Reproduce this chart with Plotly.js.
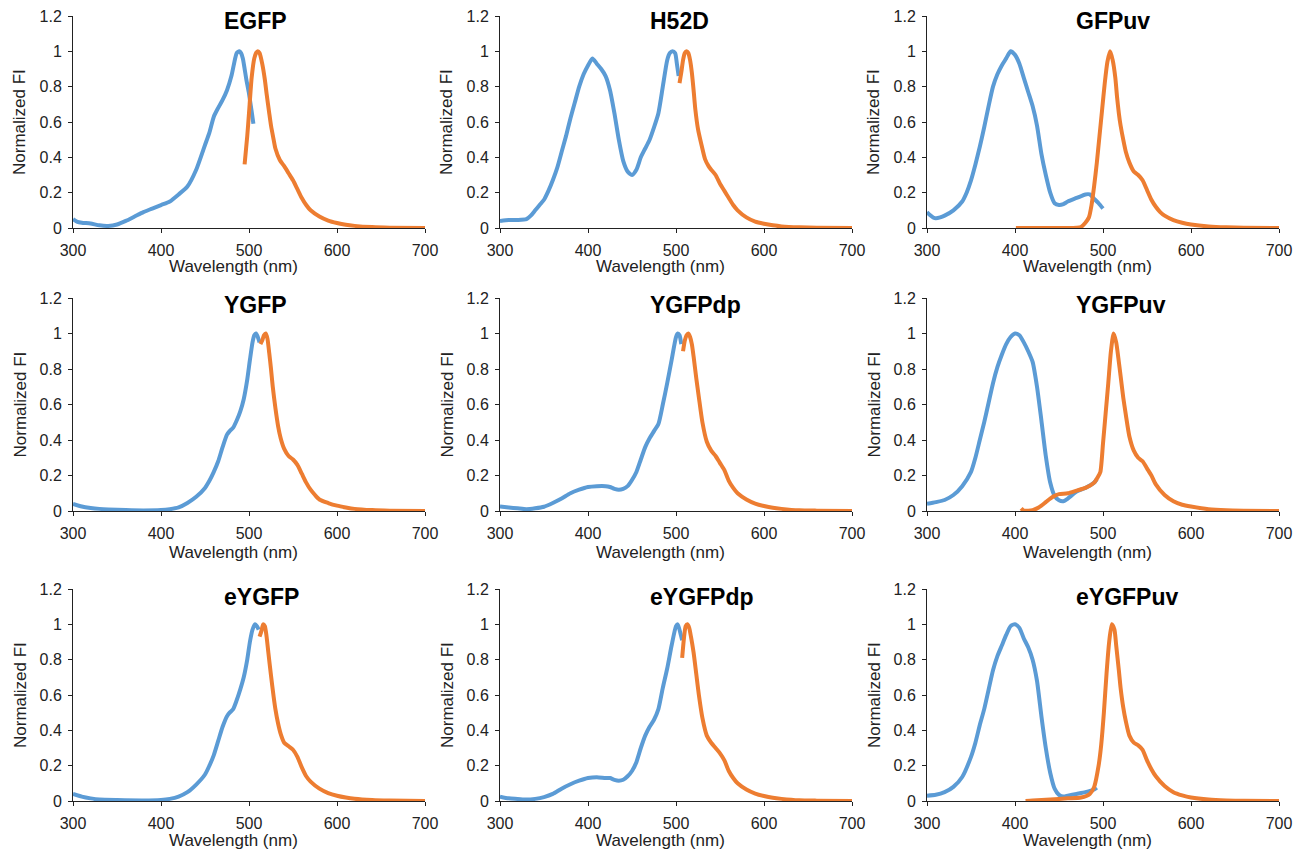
<!DOCTYPE html>
<html>
<head>
<meta charset="utf-8">
<script src="https://cdn.plot.ly/plotly-3.0.1.min.js"></script>
<style>html,body{margin:0;padding:0;background:#fff;}#chart{width:1307px;height:854px;}</style>
</head>
<body>
<div id="chart"></div>
<script>
// ---------- data ----------
const panelTitles = ["EGFP","H52D","GFPuv","YGFP","YGFPdp","YGFPuv","eYGFP","eYGFPdp","eYGFPuv"];
const xTickVals = [300,400,500,600,700];
const yTickVals = [0,0.2,0.4,0.6,0.8,1,1.2];
const xAxisTitle = "Wavelength (nm)";
const yAxisTitle = "Normalized FI";

// EGFP
const egfpExX = [300,305,310,320,330,340,350,360,370,380,390,400,410,420,430,440,450,455,460,465,470,475,480,483,486,489,491,493,497,500,503,505];
const egfpExY = [0.05,0.035,0.03,0.025,0.015,0.012,0.02,0.04,0.065,0.09,0.11,0.13,0.15,0.19,0.235,0.33,0.47,0.54,0.63,0.68,0.725,0.78,0.86,0.93,0.99,1.0,0.99,0.96,0.84,0.76,0.66,0.59];
const egfpEmX = [495,498,500,503,506,508,510,512,515,518,520,523,525,528,530,535,540,545,550,555,560,565,570,580,590,600,610,620,640,660,700];
const egfpEmY = [0.36,0.52,0.65,0.85,0.96,0.99,1.0,0.99,0.93,0.84,0.76,0.65,0.58,0.5,0.45,0.385,0.35,0.31,0.27,0.22,0.17,0.13,0.1,0.065,0.042,0.028,0.018,0.012,0.005,0.002,0];
// H52D
const h52dExX = [300,310,320,330,335,340,345,350,355,360,365,370,375,380,385,390,395,400,405,410,415,420,425,430,435,440,445,450,455,460,465,470,475,480,485,490,493,496,499,501,503];
const h52dExY = [0.04,0.045,0.045,0.05,0.07,0.1,0.13,0.16,0.21,0.27,0.34,0.43,0.52,0.62,0.71,0.8,0.87,0.92,0.96,0.93,0.9,0.86,0.78,0.65,0.5,0.38,0.32,0.3,0.33,0.4,0.45,0.5,0.57,0.65,0.8,0.95,0.99,1.0,0.99,0.93,0.86];
const h52dEmX = [504,506,508,510,512,514,516,518,520,522,525,529,533,537,540,545,550,555,560,565,570,580,590,600,610,620,640,660,700];
const h52dEmY = [0.82,0.88,0.95,0.99,1.0,0.99,0.95,0.88,0.78,0.67,0.56,0.47,0.39,0.35,0.33,0.3,0.25,0.21,0.17,0.13,0.1,0.06,0.036,0.024,0.015,0.009,0.004,0.002,0];
// GFPuv
const gfpuvExX = [300,303,307,310,315,320,330,340,345,350,355,360,365,370,375,380,385,390,395,400,405,410,415,420,425,430,435,440,445,450,455,460,470,480,485,490,495,500];
const gfpuvExY = [0.09,0.075,0.06,0.055,0.06,0.07,0.1,0.15,0.2,0.27,0.36,0.46,0.57,0.69,0.8,0.87,0.92,0.96,1.0,0.98,0.93,0.85,0.77,0.69,0.58,0.42,0.3,0.2,0.14,0.13,0.135,0.15,0.17,0.19,0.19,0.165,0.14,0.11];
const gfpuvEmX = [401,420,440,460,470,475,480,484,487,490,493,496,499,502,505,508,511,514,516,518,520,523,526,530,535,540,545,550,555,560,565,570,580,590,600,620,640,660,700];
const gfpuvEmY = [0,0,0,0,0.002,0.006,0.03,0.06,0.13,0.24,0.37,0.52,0.67,0.82,0.94,1.0,0.95,0.85,0.74,0.65,0.58,0.5,0.43,0.37,0.32,0.3,0.27,0.215,0.16,0.12,0.09,0.07,0.045,0.03,0.02,0.009,0.004,0.002,0];
// YGFP
const ygfpExX = [300,310,320,330,340,360,380,400,410,420,430,440,450,455,460,465,470,475,478,482,486,490,494,498,501,504,506,508,510,512];
const ygfpExY = [0.04,0.025,0.017,0.012,0.009,0.005,0.003,0.005,0.01,0.02,0.045,0.08,0.13,0.17,0.22,0.28,0.36,0.43,0.45,0.47,0.51,0.56,0.63,0.74,0.85,0.95,0.99,1.0,0.98,0.95];
const ygfpEmX = [513,515,517,519,521,523,525,527,530,533,536,540,545,550,555,560,565,570,575,580,590,600,610,620,640,660,700];
const ygfpEmY = [0.94,0.96,0.99,1.0,0.97,0.89,0.8,0.7,0.58,0.48,0.41,0.35,0.31,0.29,0.26,0.21,0.16,0.12,0.09,0.065,0.045,0.03,0.02,0.012,0.005,0.002,0];
// YGFPdp
const ygfpdpExX = [300,310,320,330,340,350,360,370,380,390,400,410,420,425,430,435,440,445,450,455,460,465,470,475,480,485,490,495,500,502,504,506];
const ygfpdpExY = [0.025,0.02,0.015,0.01,0.015,0.024,0.045,0.07,0.1,0.12,0.135,0.14,0.14,0.135,0.125,0.12,0.125,0.14,0.175,0.22,0.29,0.36,0.41,0.45,0.49,0.6,0.72,0.85,0.98,1.0,0.99,0.94];
const ygfpdpEmX = [508,510,512,514,516,518,520,523,526,530,535,540,545,550,555,560,565,570,580,590,600,610,620,640,660,700];
const ygfpdpEmY = [0.9,0.96,0.99,1.0,0.98,0.94,0.87,0.75,0.64,0.5,0.39,0.34,0.31,0.27,0.23,0.17,0.13,0.1,0.065,0.042,0.028,0.018,0.012,0.004,0.002,0];
// YGFPuv
const ygfpuvExX = [300,310,320,330,340,350,355,360,365,370,375,380,385,390,395,400,405,410,415,420,425,430,435,440,445,450,455,460,470,480,490,493];
const ygfpuvExY = [0.04,0.05,0.062,0.09,0.14,0.22,0.3,0.4,0.5,0.61,0.72,0.81,0.88,0.94,0.98,1.0,0.99,0.95,0.9,0.84,0.7,0.51,0.31,0.16,0.085,0.06,0.055,0.07,0.11,0.13,0.16,0.18];
const ygfpuvEmX = [407,410,415,420,425,430,435,440,445,450,460,470,480,490,494,497,500,503,506,509,512,515,518,520,523,526,530,535,540,545,550,555,560,570,580,590,600,620,640,660,700];
const ygfpuvEmY = [0.015,0.002,0.002,0.005,0.015,0.03,0.05,0.07,0.085,0.095,0.1,0.115,0.13,0.16,0.19,0.22,0.38,0.55,0.72,0.9,1.0,0.95,0.84,0.76,0.64,0.54,0.42,0.34,0.3,0.28,0.24,0.2,0.15,0.09,0.055,0.035,0.025,0.01,0.004,0.002,0];
// eYGFP
const eygfpExX = [300,310,320,330,350,380,400,410,420,430,440,450,455,460,465,470,475,478,482,486,490,494,498,501,504,507,509,511];
const eygfpExY = [0.04,0.025,0.015,0.008,0.005,0.003,0.006,0.012,0.025,0.05,0.093,0.15,0.2,0.26,0.34,0.42,0.48,0.5,0.52,0.57,0.63,0.7,0.8,0.9,0.97,1.0,0.99,0.97];
const eygfpEmX = [512,514,516,518,520,522,525,528,530,533,536,540,545,550,555,560,565,570,580,590,600,610,620,640,660,700];
const eygfpEmY = [0.93,0.96,1.0,0.99,0.93,0.84,0.71,0.59,0.52,0.44,0.38,0.33,0.31,0.29,0.25,0.19,0.14,0.11,0.07,0.045,0.03,0.02,0.013,0.006,0.003,0];
// eYGFPdp
const eygfpdpExX = [300,310,320,330,340,350,360,370,380,390,400,410,420,425,430,435,440,445,450,455,460,465,470,475,480,485,490,495,500,502,505,507];
const eygfpdpExY = [0.025,0.015,0.012,0.008,0.012,0.022,0.04,0.07,0.095,0.115,0.13,0.135,0.13,0.13,0.12,0.115,0.12,0.14,0.17,0.22,0.3,0.37,0.42,0.46,0.52,0.64,0.75,0.88,0.99,1.0,0.95,0.91];
const eygfpdpEmX = [507,509,511,513,515,517,520,523,526,530,535,540,545,550,555,560,565,570,580,590,600,610,620,640,660,700];
const eygfpdpEmY = [0.81,0.92,0.99,1.0,0.98,0.93,0.84,0.72,0.6,0.47,0.37,0.33,0.3,0.27,0.23,0.17,0.13,0.1,0.065,0.042,0.028,0.018,0.012,0.004,0.002,0];
// eYGFPuv
const eygfpuvExX = [300,310,320,330,340,350,355,360,365,370,375,380,385,390,395,400,405,410,415,420,425,430,435,440,445,450,455,460,470,480,490,493];
const eygfpuvExY = [0.03,0.035,0.05,0.08,0.136,0.25,0.33,0.43,0.52,0.63,0.74,0.82,0.88,0.94,0.99,1.0,0.98,0.92,0.87,0.8,0.68,0.48,0.3,0.16,0.07,0.035,0.025,0.03,0.04,0.05,0.065,0.075];
const eygfpuvEmX = [412,420,440,460,475,485,490,495,498,501,504,507,510,513,515,518,520,523,526,530,535,540,545,550,555,560,570,580,590,600,620,640,660,700];
const eygfpuvEmY = [0,0.003,0.008,0.015,0.02,0.04,0.08,0.2,0.32,0.5,0.72,0.9,1.0,0.97,0.88,0.74,0.64,0.53,0.45,0.37,0.33,0.315,0.29,0.23,0.18,0.14,0.085,0.05,0.032,0.02,0.008,0.003,0.001,0];

const seriesByPanel = [
  [egfpExX,egfpExY,egfpEmX,egfpEmY],
  [h52dExX,h52dExY,h52dEmX,h52dEmY],
  [gfpuvExX,gfpuvExY,gfpuvEmX,gfpuvEmY],
  [ygfpExX,ygfpExY,ygfpEmX,ygfpEmY],
  [ygfpdpExX,ygfpdpExY,ygfpdpEmX,ygfpdpEmY],
  [ygfpuvExX,ygfpuvExY,ygfpuvEmX,ygfpuvEmY],
  [eygfpExX,eygfpExY,eygfpEmX,eygfpEmY],
  [eygfpdpExX,eygfpdpExY,eygfpdpEmX,eygfpdpEmY],
  [eygfpuvExX,eygfpuvExY,eygfpuvEmX,eygfpuvEmY]
];

// ---------- layout (pixel geometry) ----------
const W = 1307, H = 854;
const colPx = [[73,425],[500,852],[927,1279]];
const rowPx = [[16,228],[298,511],[589,801]];
const titleLeftPx = [222,648,1074];
const titleYPx = [21.5,305,596.5];
const xTitleYPx = [266,552,840];
const FONT = "Liberation Sans, Arial, Helvetica, sans-serif";
const BLUE = "#5B9BD5", ORANGE = "#ED7D31";
const px2x = p => p / W;
const py2y = p => 1 - p / H;

const traces = [];
const layout = {
  width: W, height: H,
  margin: {l:0, r:0, t:0, b:0},
  paper_bgcolor: "#fff", plot_bgcolor: "rgba(0,0,0,0)",
  showlegend: false,
  font: {family: FONT, color: "#222"},
  annotations: []
};

for (let i = 0; i < 9; i++) {
  const r = Math.floor(i / 3), c = i % 3;
  const n = i + 1;
  const xa = n === 1 ? "x" : "x" + n;
  const ya = n === 1 ? "y" : "y" + n;
  const [ex, ey, mx, my] = seriesByPanel[i];
  traces.push({x: ex, y: ey, xaxis: xa, yaxis: ya, type: "scatter", mode: "lines",
    line: {color: BLUE, width: 4, shape: "spline", smoothing: 0.6}, hoverinfo: "skip"});
  traces.push({x: mx, y: my, xaxis: xa, yaxis: ya, type: "scatter", mode: "lines",
    line: {color: ORANGE, width: 4, shape: "spline", smoothing: 0.6}, hoverinfo: "skip"});

  const axBase = {showgrid: false, zeroline: false, showline: true, linecolor: "#222", linewidth: 1,
    ticks: "outside", ticklen: 4, tickwidth: 1, tickcolor: "#222",
    tickfont: {family: FONT, size: 16, color: "#222"}, fixedrange: true};
  layout["xaxis" + (n === 1 ? "" : n)] = Object.assign({}, axBase, {
    domain: [px2x(colPx[c][0]), px2x(colPx[c][1])], anchor: ya,
    range: [300, 700], tickmode: "array", tickvals: xTickVals, ticktext: xTickVals.map(String),
    ticklabelstandoff: 4
  });
  layout["yaxis" + (n === 1 ? "" : n)] = Object.assign({}, axBase, {
    domain: [py2y(rowPx[r][1]), py2y(rowPx[r][0])], anchor: xa,
    range: [0, 1.2], tickmode: "array", tickvals: yTickVals, ticktext: yTickVals.map(v => String(v)),
    ticklabelstandoff: 3
  });

  layout.annotations.push({text: "<b>" + panelTitles[i] + "</b>", xref: "paper", yref: "paper",
    x: px2x(titleLeftPx[c]), y: py2y(titleYPx[r]), xanchor: "left", yanchor: "middle",
    showarrow: false, font: {family: FONT, size: 23, color: "#000"}});
  layout.annotations.push({text: yAxisTitle, xref: "paper", yref: "paper", textangle: -90,
    x: px2x(colPx[c][0] - 53), y: py2y((rowPx[r][0] + rowPx[r][1]) / 2), xanchor: "center", yanchor: "middle",
    showarrow: false, font: {family: FONT, size: 17, color: "#222"}});
  layout.annotations.push({text: xAxisTitle, xref: "paper", yref: "paper",
    x: px2x((colPx[c][0] + colPx[c][1]) / 2 - 16), y: py2y(xTitleYPx[r]), xanchor: "center", yanchor: "middle",
    showarrow: false, font: {family: FONT, size: 17, color: "#222"}});
}

Plotly.newPlot("chart", traces, layout, {displayModeBar: false, staticPlot: true});
</script>
</body>
</html>
